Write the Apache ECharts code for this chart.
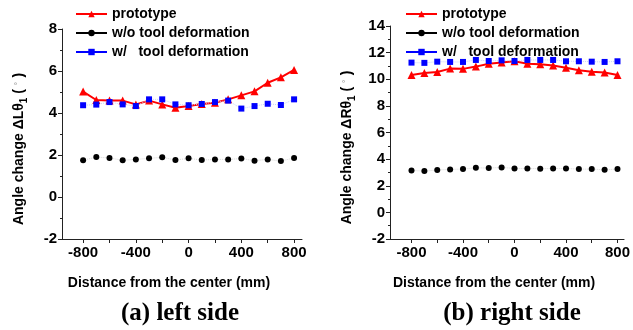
<!DOCTYPE html>
<html><head><meta charset="utf-8">
<script src="https://cdn.jsdelivr.net/npm/echarts@6/dist/echarts.min.js"></script>
<style>html,body{margin:0;padding:0;background:#fff}#c{width:633px;height:330px}</style>
</head><body><div id="c"></div>
<script>
const distances = [-800,-700,-600,-500,-400,-300,-200,-100,0,100,200,300,400,500,600,700,800];
const xTickLabels = [-800,-400,0,400,800];
const xTickMarks = [-800,-600,-400,-200,0,200,400,600,800];
const seriesNames = ['prototype','w/o tool deformation','w/   tool deformation'];

const leftPrototype = [5.02,4.62,4.60,4.59,4.41,4.59,4.41,4.25,4.33,4.43,4.49,4.65,4.84,5.03,5.44,5.70,6.05];
const leftWithout   = [1.75,1.90,1.86,1.75,1.79,1.84,1.89,1.76,1.84,1.76,1.79,1.79,1.83,1.73,1.79,1.71,1.86];
const leftWith      = [4.37,4.40,4.52,4.41,4.33,4.65,4.65,4.41,4.37,4.43,4.52,4.59,4.21,4.33,4.44,4.38,4.65];

const rightPrototype = [10.32,10.47,10.55,10.80,10.78,10.95,11.17,11.25,11.35,11.17,11.12,11.03,10.87,10.67,10.57,10.50,10.32];
const rightWithout   = [3.15,3.10,3.18,3.23,3.25,3.35,3.33,3.38,3.30,3.30,3.28,3.30,3.30,3.25,3.25,3.20,3.25];
const rightWith      = [11.25,11.23,11.32,11.30,11.30,11.45,11.37,11.42,11.37,11.45,11.45,11.45,11.35,11.35,11.32,11.30,11.35];

const pairs = v => distances.map((d,i)=>[d,v[i]]);
const F = 'Liberation Sans, Arial, sans-serif';
const axisLine = {show:true, onZero:false, lineStyle:{color:'#222', width:1}};

function xAxis(idx, min, max){
  return {type:'value', gridIndex:idx, min:min, max:max,
    axisLine:axisLine, splitLine:{show:false},
    axisTick:{show:true, length:4, customValues:xTickMarks, lineStyle:{color:'#222'}},
    axisLabel:{customValues:xTickLabels, color:'#000', fontFamily:F, fontWeight:'bold', fontSize:15, margin:6},
    name:'Distance from the center (mm)', nameLocation:'middle', nameGap:37,
    nameTextStyle:{color:'#000', fontFamily:F, fontWeight:'bold', fontSize:14, padding:[0,26,0,0]}};
}
function yAxis(idx, min, max, letter, gap){
  return {type:'value', gridIndex:idx, min:min, max:max, interval:2,
    axisLine:axisLine, splitLine:{show:false},
    axisTick:{show:true, length:4, lineStyle:{color:'#222'}},
    minorTick:{show:true, splitNumber:2, length:2, lineStyle:{color:'#222'}},
    axisLabel:{color:'#000', fontFamily:F, fontWeight:'bold', fontSize:15, margin:5},
    name:'{a|Angle change Δ'+letter+'θ}{s|1}{a| ( }{d|˚}{a| )}', nameLocation:'middle', nameGap:gap,
    nameTextStyle:{padding:[0,30,0,0], rich:{
      a:{color:'#000', fontFamily:F, fontWeight:'bold', fontSize:14},
      s:{color:'#000', fontFamily:F, fontWeight:'bold', fontSize:10, padding:[9,0,0,0]},
      d:{color:'#999', fontFamily:F, fontSize:11}
    }}};
}
function series(idx, proto, without, withd){
  return [
    {name:seriesNames[0], type:'line', xAxisIndex:idx, yAxisIndex:idx, data:pairs(proto),
     symbol:'triangle', symbolSize:8, lineStyle:{color:'#ff0000', width:2}, itemStyle:{color:'#ff0000'}, z:3},
    {name:seriesNames[1], type:'line', xAxisIndex:idx, yAxisIndex:idx, data:pairs(without),
     symbol:'circle', symbolSize:6, lineStyle:{color:'#d8d8d8', width:1, type:'dotted'}, itemStyle:{color:'#000'}},
    {name:seriesNames[2], type:'line', xAxisIndex:idx, yAxisIndex:idx, data:pairs(withd),
     symbol:'rect', symbolSize:6, lineStyle:{color:'#c8d0ff', width:1, type:'dotted'}, itemStyle:{color:'#0000ff'}}
  ];
}
function legend(left){
  return {orient:'vertical', left:left, top:2, itemWidth:31, itemHeight:8, itemGap:5,
    textStyle:{color:'#000', fontFamily:F, fontWeight:'bold', fontSize:14},
    data:[
      {name:seriesNames[0], lineStyle:{color:'#ff0000', width:2, type:'solid'}},
      {name:seriesNames[1], lineStyle:{color:'#000', width:2, type:'solid'}},
      {name:seriesNames[2], lineStyle:{color:'#0000ff', width:2, type:'solid'}}
    ]};
}

const chart = echarts.init(document.getElementById('c'), null, {renderer:'canvas'});
chart.setOption({
  animation:false,
  backgroundColor:'#fff',
  legend:[legend(70), legend(400)],
  grid:[
    {left:62, top:29, width:240, height:210},
    {left:390, top:26, width:236, height:213}
  ],
  xAxis:[xAxis(0,-960,860), xAxis(1,-967,851)],
  yAxis:[yAxis(0,-2,8,'L',33), yAxis(1,-2,14,'R',33)],
  series:[...series(0,leftPrototype,leftWithout,leftWith), ...series(1,rightPrototype,rightWithout,rightWith)],
  graphic:[
    {type:'text', x:180, y:314, style:{text:'(a) left side', x:0, y:0, align:'center', verticalAlign:'middle',
      font:'bold 25px "Liberation Serif", "Times New Roman", serif', fill:'#000'}},
    {type:'text', x:512, y:314, style:{text:'(b) right side', x:0, y:0, align:'center', verticalAlign:'middle',
      font:'bold 25px "Liberation Serif", "Times New Roman", serif', fill:'#000'}}
  ]
});
</script></body></html>
